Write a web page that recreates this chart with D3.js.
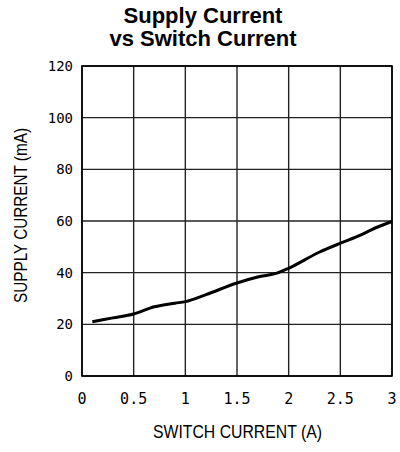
<!DOCTYPE html>
<html>
<head>
<meta charset="utf-8">
<script src="https://cdn.jsdelivr.net/npm/d3@7"></script>
<style>
  body { margin: 0; background: #fff; }
  .title { font-family: 'Liberation Sans', Arial, sans-serif; font-weight: bold; font-size: 22px; }
  .tick-label { font-family: 'DejaVu Sans Mono', monospace; fill: #000; }
  .axis-title { font-family: 'Liberation Sans', sans-serif; fill: #000; }
</style>
</head>
<body>
<svg id="chart" width="400" height="452"></svg>
<script>
const switchCurrent = [0.1, 0.3, 0.5, 0.7, 0.9, 1.0, 1.2, 1.5, 1.7, 1.9, 2.0, 2.3, 2.5, 2.7, 2.8, 3.0];
const supplyCurrent = [21, 22.5, 24, 26.8, 28.2, 28.8, 31.5, 36, 38.3, 40, 41.7, 48, 51.4, 54.6, 56.6, 59.8];
const xTicks = [0, 0.5, 1, 1.5, 2, 2.5, 3];
const yTicks = [0, 20, 40, 60, 80, 100, 120];

const svg = d3.select('#chart');
const plotLeft = 82, plotRight = 392, plotTop = 66, plotBottom = 376;

const x = d3.scaleLinear().domain([0, 3]).range([plotLeft, plotRight]);
const y = d3.scaleLinear().domain([0, 120]).range([plotBottom, plotTop]);

svg.append('text').attr('class', 'title').attr('x', 203).attr('y', 23)
  .attr('text-anchor', 'middle').text('Supply Current');
svg.append('text').attr('class', 'title').attr('x', 203).attr('y', 46)
  .attr('text-anchor', 'middle').text('vs Switch Current');

// grid
svg.append('g')
  .selectAll('line')
  .data(xTicks)
  .enter()
  .append('line')
  .attr('x1', d => x(d)).attr('x2', d => x(d))
  .attr('y1', plotTop).attr('y2', plotBottom)
  .attr('stroke', '#222').attr('stroke-width', 1.4);

svg.append('g')
  .selectAll('line')
  .data(yTicks)
  .enter()
  .append('line')
  .attr('x1', plotLeft).attr('x2', plotRight)
  .attr('y1', d => y(d)).attr('y2', d => y(d))
  .attr('stroke', '#222').attr('stroke-width', 1.4);

svg.append('rect')
  .attr('x', plotLeft).attr('y', plotTop)
  .attr('width', plotRight - plotLeft).attr('height', plotBottom - plotTop)
  .attr('fill', 'none').attr('stroke', '#000').attr('stroke-width', 1.6);

// tick labels
svg.append('g')
  .selectAll('text')
  .data(xTicks)
  .enter()
  .append('text')
  .attr('class', 'tick-label')
  .attr('x', d => x(d)).attr('y', 404)
  .attr('text-anchor', 'middle')
  .attr('font-size', 15)
  .text(d => d);

svg.append('g')
  .selectAll('text')
  .data(yTicks)
  .enter()
  .append('text')
  .attr('class', 'tick-label')
  .attr('x', 73).attr('y', d => y(d) + 5)
  .attr('text-anchor', 'end')
  .attr('font-size', 14)
  .text(d => d);

// axis titles (narrow, tall lettering)
svg.append('text').attr('class', 'axis-title')
  .attr('x', 153).attr('y', 438)
  .attr('font-size', 18)
  .attr('textLength', 169)
  .attr('lengthAdjust', 'spacingAndGlyphs')
  .text('SWITCH CURRENT (A)');

svg.append('text').attr('class', 'axis-title')
  .attr('transform', `translate(27, 303) rotate(-90)`)
  .attr('font-size', 18)
  .attr('textLength', 175)
  .attr('lengthAdjust', 'spacingAndGlyphs')
  .text('SUPPLY CURRENT (mA)');

// curve
const points = switchCurrent.map((v, i) => ({ x: v, y: supplyCurrent[i] }));
svg.append('path')
  .datum(points)
  .attr('fill', 'none')
  .attr('stroke', '#000')
  .attr('stroke-width', 3)
  .attr('stroke-linejoin', 'round')
  .attr('d', d3.line().x(d => x(d.x)).y(d => y(d.y)).curve(d3.curveMonotoneX));
</script>
</body>
</html>
